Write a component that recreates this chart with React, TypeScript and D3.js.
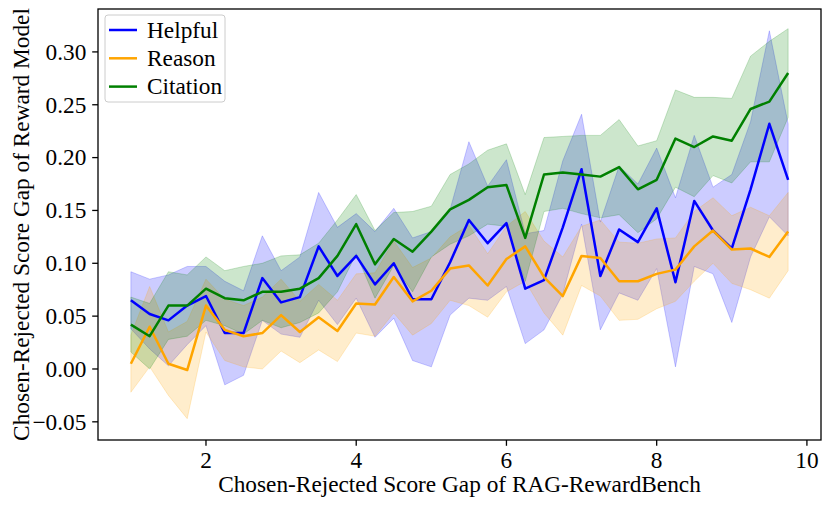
import * as d3 from "d3";

// x grid of the binned score gap
const gaps = [
  1, 1.25, 1.5, 1.75, 2, 2.25, 2.5, 2.75, 3, 3.25, 3.5, 3.75, 4, 4.25, 4.5, 4.75, 5, 5.25,
  5.5, 5.75, 6, 6.25, 6.5, 6.75, 7, 7.25, 7.5, 7.75, 8, 8.25, 8.5, 8.75, 9, 9.25, 9.5, 9.75,
];

const helpfulMean = [
  0.065, 0.052, 0.046, 0.06, 0.069, 0.034, 0.034, 0.086, 0.063, 0.068, 0.116, 0.088, 0.107,
  0.08, 0.1, 0.066, 0.066, 0.101, 0.141, 0.119, 0.138, 0.076, 0.084, 0.134, 0.189, 0.088,
  0.132, 0.12, 0.152, 0.082, 0.159, 0.131, 0.114, 0.17, 0.232, 0.179,
];
const helpfulErr = [
  0.027, 0.033, 0.043, 0.037, 0.028, 0.049, 0.04, 0.04, 0.03, 0.038, 0.051, 0.046, 0.04,
  0.05, 0.052, 0.058, 0.064, 0.05, 0.074, 0.054, 0.06, 0.052, 0.047, 0.063, 0.052, 0.051,
  0.06, 0.055, 0.057, 0.08, 0.062, 0.041, 0.07, 0.064, 0.088, 0.053,
];

const reasonMean = [
  0.005, 0.04, 0.005, -0.001, 0.06, 0.037, 0.031, 0.034, 0.051, 0.035, 0.049, 0.036, 0.062,
  0.061, 0.087, 0.064, 0.074, 0.095, 0.098, 0.079, 0.104, 0.116, 0.087, 0.069, 0.107, 0.105,
  0.083, 0.083, 0.09, 0.094, 0.116, 0.131, 0.113, 0.114, 0.106, 0.13,
];
const reasonErr = [
  0.027, 0.038, 0.03, 0.046, 0.025, 0.029, 0.029, 0.034, 0.034, 0.029, 0.031, 0.029, 0.028,
  0.03, 0.034, 0.032, 0.031, 0.03, 0.038, 0.03, 0.031, 0.033, 0.034, 0.037, 0.028, 0.036,
  0.037, 0.036, 0.033, 0.03, 0.033, 0.031, 0.032, 0.039, 0.039, 0.037,
];

const citationMean = [
  0.042, 0.031, 0.06, 0.06, 0.076, 0.067, 0.065, 0.073, 0.073, 0.076, 0.086, 0.107, 0.137,
  0.099, 0.123, 0.111, 0.13, 0.151, 0.16, 0.172, 0.174, 0.124, 0.184, 0.186, 0.184, 0.182,
  0.191, 0.17, 0.179, 0.218, 0.21, 0.22, 0.216, 0.246, 0.253, 0.28,
];
const citationErr = [
  0.026, 0.031, 0.032, 0.029, 0.03, 0.026, 0.032, 0.027, 0.034, 0.032, 0.033, 0.034, 0.028,
  0.032, 0.025, 0.038, 0.024, 0.033, 0.034, 0.035, 0.039, 0.041, 0.035, 0.034, 0.037, 0.039,
  0.045, 0.041, 0.037, 0.046, 0.047, 0.037, 0.04, 0.05, 0.057, 0.042,
];

const seriesNames = ["Helpful", "Reason", "Citation"];
const seriesColors = ["blue", "orange", "green"];

const xTicks = [2, 4, 6, 8, 10];
const yTicks = [-0.05, 0, 0.05, 0.1, 0.15, 0.2, 0.25, 0.3];
const xLimits = [0.5625, 10.1875];
const yLimits = [-0.0672, 0.3406];

const W = 831;
const H = 506;
const left = 98,
  right = 821,
  top = 9,
  bottom = 440;
const TICK = 5.8;
const FS = "23.3px";
const textStyle = { fontFamily: '"Liberation Serif"', fontSize: FS };

export default function App() {
  const x = d3.scaleLinear().domain(xLimits).range([left, right]);
  const y = d3.scaleLinear().domain(yLimits).range([bottom, top]);
  const fmtY = d3.format(".2f");

  const means = [helpfulMean, reasonMean, citationMean];
  const errs = [helpfulErr, reasonErr, citationErr];

  const line = d3
    .line<number>()
    .x((_, i) => x(gaps[i]))
    .y((d) => y(d));

  return (
    <svg width={W} height={H} style={{ position: "absolute", left: 0, top: 0 }}>
      {/* confidence bands below the lines */}
      {means.map((m, k) => {
        const area = d3
          .area<number>()
          .x((_, i) => x(gaps[i]))
          .y0((_, i) => y(m[i] - errs[k][i]))
          .y1((_, i) => y(m[i] + errs[k][i]));
        return (
          <path
            key={"band" + k}
            d={area(m) ?? ""}
            fill={seriesColors[k]}
            fillOpacity={0.2}
            stroke={seriesColors[k]}
            strokeOpacity={0.2}
            strokeWidth={1}
          />
        );
      })}
      {means.map((m, k) => (
        <path
          key={"line" + k}
          d={line(m) ?? ""}
          fill="none"
          stroke={seriesColors[k]}
          strokeWidth={2.5}
          strokeLinejoin="round"
        />
      ))}

      {/* x axis */}
      {xTicks.map((t) => (
        <g key={"x" + t}>
          <line x1={x(t)} x2={x(t)} y1={bottom} y2={bottom + TICK} stroke="#000" strokeWidth={1.3} />
          <text x={x(t)} y={bottom + 28} textAnchor="middle" style={textStyle}>
            {t}
          </text>
        </g>
      ))}

      {/* y axis */}
      {yTicks.map((t) => (
        <g key={"y" + t}>
          <line x1={left - TICK} x2={left} y1={y(t)} y2={y(t)} stroke="#000" strokeWidth={1.3} />
          <text x={left - TICK - 5.8} y={y(t) + 7.8} textAnchor="end" style={textStyle}>
            {fmtY(t)}
          </text>
        </g>
      ))}

      <rect
        x={left}
        y={top}
        width={right - left}
        height={bottom - top}
        fill="none"
        stroke="#000"
        strokeWidth={1.3}
      />

      <text x={(left + right) / 2} y={492} textAnchor="middle" style={textStyle}>
        Chosen-Rejected Score Gap of RAG-RewardBench
      </text>
      <text
        transform={`translate(28.5,${(top + bottom) / 2}) rotate(-90)`}
        textAnchor="middle"
        style={textStyle}
      >
        Chosen-Rejected Score Gap of Reward Model
      </text>

      {/* legend */}
      <rect x={105} y={15} width={120} height={87} rx={3} fill="#fff" fillOpacity={0.8} stroke="#cccccc" strokeWidth={1} />
      {seriesNames.map((name, k) => {
        const cy = 30 + k * 28.3;
        return (
          <g key={name}>
            <line x1={109} x2={137} y1={cy} y2={cy} stroke={seriesColors[k]} strokeWidth={2.5} />
            <text x={147} y={cy + 7.8} style={textStyle}>
              {name}
            </text>
          </g>
        );
      })}
    </svg>
  );
}
